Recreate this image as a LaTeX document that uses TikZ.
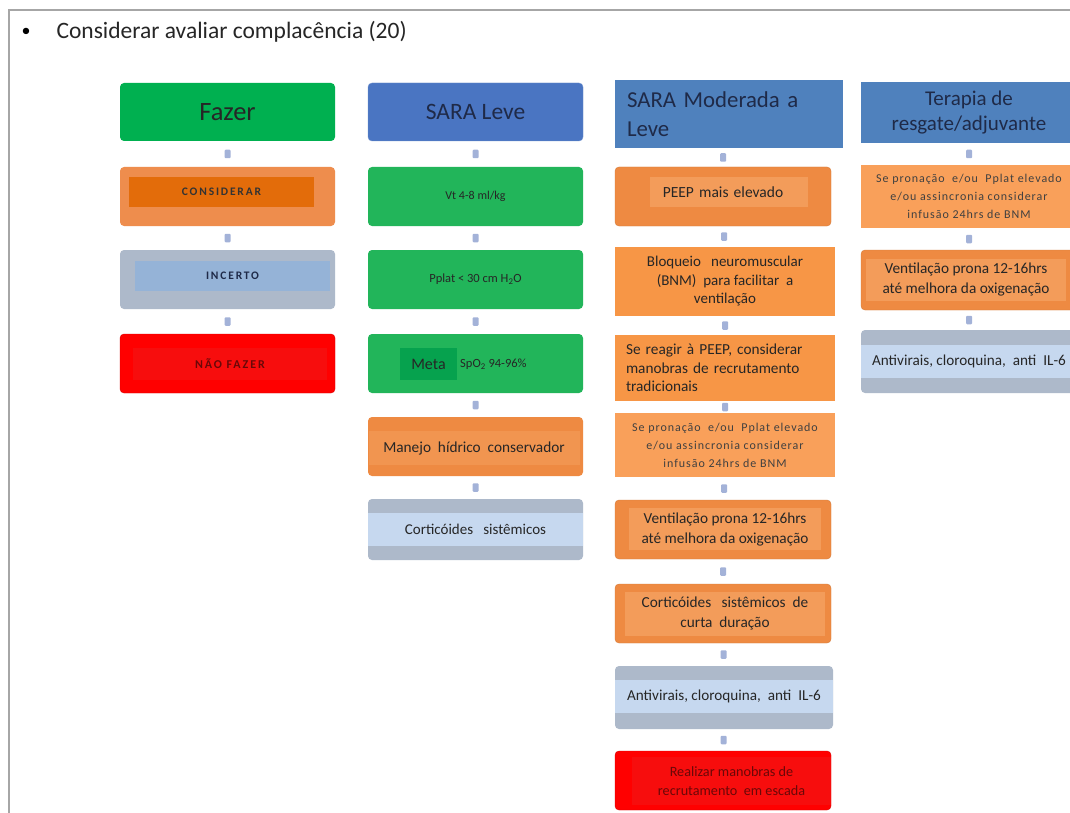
\documentclass[tikz,border=0pt]{standalone}
\usepackage{fontspec}
\setmainfont{Carlito}
\newfontfamily\spacedfont[LetterSpace=8]{Carlito}
\newfontfamily\capsfont[LetterSpace=16]{Carlito}

\definecolor{framec}{HTML}{A6A6A6}
\definecolor{txtc}{HTML}{262626}
\definecolor{navyc}{HTML}{1F2A48}
\definecolor{arrowc}{HTML}{A3B2D8}
\definecolor{greenhead}{HTML}{00B050}
\definecolor{greenbox}{HTML}{22B55A}
\definecolor{greenmeta}{HTML}{06A24E}
\definecolor{blueleve}{HTML}{4A75C2}
\definecolor{bluehead}{HTML}{4F81BD}
\definecolor{oranout}{HTML}{EE8D4D}
\definecolor{oraninn}{HTML}{E36C0A}
\definecolor{oranbox}{HTML}{EE8A42}
\definecolor{oranpale}{HTML}{F39C5A}
\definecolor{oransq}{HTML}{F79646}
\definecolor{oranlite}{HTML}{F9A05A}
\definecolor{greyout}{HTML}{ADB9CA}
\definecolor{bandc}{HTML}{C6D8EF}
\definecolor{incertoc}{HTML}{95B3D7}
\definecolor{redout}{HTML}{FF0000}
\definecolor{redinn}{HTML}{F70D0D}
\definecolor{redtxt}{HTML}{6A0808}

\newcommand\fsz[2]{\fontsize{#1}{#2}\selectfont}

\tikzset{
  box/.style={rectangle, inner sep=0pt, align=center, text=txtc},
  rbox/.style={box, rounded corners=4pt},
  conn/.style={rectangle, fill=arrowc, draw=none, inner sep=0pt, rounded corners=1pt,
    minimum width=6pt, minimum height=8.5pt, midway}
}

\begin{document}
\begin{tikzpicture}[x=1pt,y=1pt]
\useasboundingbox (0,0) rectangle (1070,-813);
\clip (0,0) rectangle (1070,-813);
\fill[white] (0,0) rectangle (1070,-813);
\draw[framec, line width=2.5pt] (9,-813) -- (9,-10) -- (1070,-10);
\node[text=black, font=\fsz{18}{22}] (marca) at (26,-32) {\textbullet};
\node[text=txtc, font=\fsz{23.5}{28}, anchor=west] (titulo) at (53,-32) {Considerar avaliar complacência (20)};

\node[rbox, fill=greenhead, minimum width=215pt, minimum height=58pt, font=\fsz{26.5}{30}, text=black!85] (fazer) at (227.5,-112) {Fazer};
\node[rbox, fill=oranout, minimum width=215pt, minimum height=59pt] (considerar) at (227.5,-196.5) {};
\node[box, fill=oraninn, minimum width=185pt, minimum height=30pt, font=\capsfont\bfseries\fsz{11.5}{13}, text=black!80] (considerarin) at (221.5,-192) {CONSIDERAR};
\node[rbox, fill=greyout, minimum width=215pt, minimum height=59pt] (incerto) at (227.5,-279.5) {};
\node[box, fill=incertoc, minimum width=195pt, minimum height=30pt, font=\capsfont\bfseries\fsz{11.5}{13}, text=navyc] (incertoin) at (232.5,-276) {INCERTO};
\node[rbox, fill=redout, draw=red!85!black, minimum width=215pt, minimum height=59pt] (naofazer) at (227.5,-363.5) {};
\node[box, fill=redinn, minimum width=194pt, minimum height=32pt, font=\capsfont\bfseries\fsz{12}{14}, text=redtxt] (naofazerin) at (230,-364) {NÃO FAZER};
\path (fazer.south) -- (considerar.north) node[conn] (s1) {};
\path (considerar.south) -- (incerto.north) node[conn] (s2) {};
\path (incerto.south) -- (naofazer.north) node[conn] (s3) {};

\node[rbox, fill=blueleve, draw=blueleve!80!white, minimum width=215pt, minimum height=58pt, font=\fsz{23.5}{28}, text=navyc] (leve) at (475.5,-112) {SARA Leve};
\node[rbox, fill=greenbox, minimum width=215pt, minimum height=59pt, font=\fsz{12}{14}] (vt) at (475.5,-196.5) {Vt 4-8 ml/kg};
\node[rbox, fill=greenbox, minimum width=215pt, minimum height=59pt, font=\fsz{12.5}{14}] (pplat) at (475.5,-279.5) {Pplat < 30 cm H\textsubscript{2}O};
\node[rbox, fill=greenbox, minimum width=215pt, minimum height=59pt] (meta) at (475.5,-363.5) {};
\node[box, fill=greenmeta, minimum width=57pt, minimum height=32pt, font=\fsz{16}{18}, text=black!85] (metain) at (428.5,-364) {Meta};
\node[box, font=\fsz{12.5}{14}, anchor=west] (spo) at (460,-364) {SpO\textsubscript{2} 94-96\%};
\node[rbox, fill=oranbox, minimum width=215pt, minimum height=59pt] (manejo) at (475.5,-446.5) {};
\node[box, fill=oranpale!60!oranbox, minimum width=211pt, minimum height=34pt, font=\fsz{15.3}{18}] (manejoin) at (474,-448) {Manejo~ hídrico~ conservador};
\node[rbox, fill=greyout, minimum width=215pt, minimum height=61pt] (cortic) at (475.5,-529.5) {};
\node[box, fill=bandc, minimum width=215pt, minimum height=33pt, font=\fsz{15}{18}] (corticin) at (475.5,-529.5) {Corticóides~~ sistêmicos};
\path (leve.south) -- (vt.north) node[conn] (s4) {};
\path (vt.south) -- (pplat.north) node[conn] (s5) {};
\path (pplat.south) -- (meta.north) node[conn] (s6) {};
\path (meta.south) -- (manejo.north) node[conn] (s7) {};
\path (manejo.south) -- (cortic.north) node[conn] (s8) {};

\node[box, fill=bluehead, minimum width=228pt, minimum height=68pt, text width=204pt, align=left, font=\fsz{22.8}{29}, text=navyc] (moderada) at (729,-114) {SARA Moderada a\\Leve};
\node[rbox, fill=oranbox, draw=oranbox!90!black, minimum width=216pt, minimum height=59pt] (peep) at (723,-196.5) {};
\node[box, fill=oranpale, minimum width=158pt, minimum height=30pt, text width=150pt, font=\fsz{15.5}{18}] (peepin) at (729,-192) {PEEP mais elevado\hspace*{12pt}};
\node[box, fill=oransq, minimum width=220pt, minimum height=69pt, font=\fsz{15}{18.5}] (bloqueio) at (725,-281.5) {Bloqueio~~ neuromuscular\\(BNM)~ para facilitar~ a\\ventilação};
\node[box, fill=oransq, minimum width=220pt, minimum height=66pt, text width=198pt, align=left, font=\fsz{15.3}{18.5}] (reagir) at (725,-368) {Se reagir à PEEP, considerar\\manobras de recrutamento\\tradicionais};
\node[box, fill=oranlite, minimum width=220pt, minimum height=64pt, font=\spacedfont\fsz{12}{18}, text=black!75] (pronacao) at (725,-445) {Se pronação~ e/ou~ Pplat elevado\\e/ou assincronia considerar\\infusão 24hrs de BNM};
\node[rbox, fill=oranbox, draw=oranbox!90!black, minimum width=216pt, minimum height=59pt] (prona) at (723,-529.5) {};
\node[box, fill=oranpale, minimum width=192pt, minimum height=42pt, font=\fsz{15.3}{20}] (pronain) at (725,-529) {Ventilação prona 12-16hrs\\até melhora da oxigenação};
\node[rbox, fill=oranbox, draw=oranbox!90!black, minimum width=216pt, minimum height=59pt] (curta) at (723,-613.5) {};
\node[box, fill=oranpale, minimum width=200pt, minimum height=44pt, font=\fsz{15.3}{20}] (curtain) at (725,-613.5) {Corticóides~~ sistêmicos~ de\\curta~ duração};
\node[rbox, fill=greyout, minimum width=218pt, minimum height=63pt] (antivirais) at (724,-697.5) {};
\node[box, fill=bandc, minimum width=218pt, minimum height=33pt, font=\fsz{15.2}{18}] (antiviraisin) at (724,-696.5) {Antivirais, cloroquina,~ anti~ IL-6};
\node[rbox, fill=redout, draw=red!85!black, minimum width=216pt, minimum height=59pt] (escada) at (723,-780.5) {};
\node[box, fill=redinn, minimum width=199pt, minimum height=48pt, font=\fsz{14.2}{19}, text=redtxt] (escadain) at (731.5,-781) {Realizar manobras de\\recrutamento~ em escada};
\path (moderada.south -| peep.center) -- (peep.north) node[conn] (s9) {};
\path (peep.south) -- (bloqueio.north) node[conn] (s10) {};
\path (bloqueio.south) -- (reagir.north) node[conn] (s11) {};
\path (reagir.south) -- (pronacao.north) node[conn] (s12) {};
\path (pronacao.south) -- (prona.north) node[conn] (s13) {};
\path (prona.south) -- (curta.north) node[conn] (s14) {};
\path (curta.south) -- (antivirais.north) node[conn] (s15) {};
\path (antivirais.south) -- (escada.north) node[conn] (s16) {};

\node[box, fill=bluehead, minimum width=216pt, minimum height=61pt, font=\fsz{21}{25}, text=navyc] (resgate) at (969,-112.5) {Terapia de\\resgate/adjuvante};
\node[box, fill=oranlite, minimum width=216pt, minimum height=63pt, font=\spacedfont\fsz{12}{18}, text=black!75] (rpronacao) at (969,-196.5) {Se pronação~ e/ou~ Pplat elevado\\e/ou assincronia considerar\\infusão 24hrs de BNM};
\node[rbox, fill=oranbox, draw=oranbox!90!black, minimum width=216pt, minimum height=60pt] (rprona) at (969,-280) {};
\node[box, fill=oranpale, minimum width=200pt, minimum height=42pt, font=\fsz{15.3}{20}] (rpronain) at (966,-280) {Ventilação prona 12-16hrs\\até melhora da oxigenação};
\node[rbox, fill=greyout, minimum width=216pt, minimum height=63pt] (rantivirais) at (969,-361.5) {};
\node[box, fill=bandc, minimum width=216pt, minimum height=33pt, font=\fsz{15.2}{18}] (rantiviraisin) at (969,-361.5) {Antivirais, cloroquina,~ anti~ IL-6};
\path (resgate.south) -- (rpronacao.north) node[conn] (s17) {};
\path (rpronacao.south) -- (rprona.north) node[conn] (s18) {};
\path (rprona.south) -- (rantivirais.north) node[conn] (s19) {};
\end{tikzpicture}
\end{document}
